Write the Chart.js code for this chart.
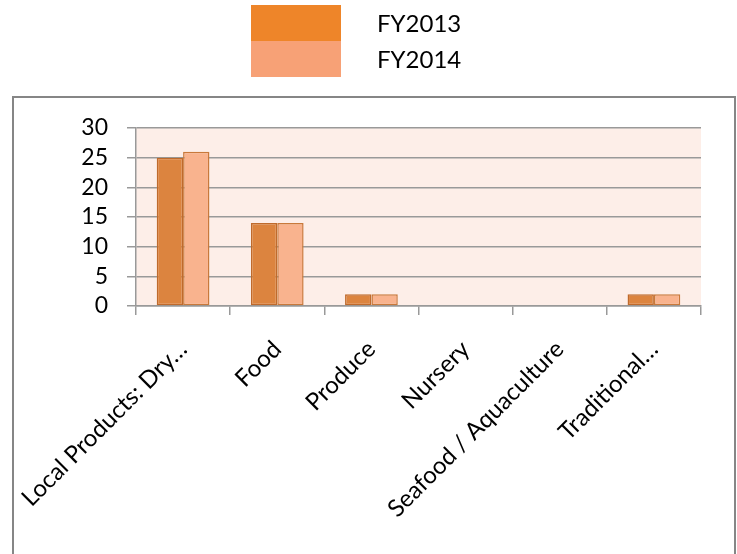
<!DOCTYPE html>
<html>
<head>
<meta charset="utf-8">
<script src="https://cdn.jsdelivr.net/npm/chart.js@4"></script>
<style>
  html, body { margin: 0; padding: 0; background: #fff; }
  #wrap { width: 737px; height: 554px; position: relative; }
</style>
</head>
<body>
<div id="wrap"><canvas id="salesChart"></canvas></div>
<script>
// vendors per category, two fiscal years
const categories = ["Local Products: Dry…", "Food", "Produce", "Nursery", "Seafood / Aquaculture", "Traditional…"];
const seriesNames = ["FY2013", "FY2014"];
const fy2013 = [25, 14, 2, 0, 0, 2];
const fy2014 = [26, 14, 2, 0, 0, 2];
const yTicks = [0, 5, 10, 15, 20, 25, 30];

const barColors = ["#dc843f", "#f9b38e"];
const barBorders = ["#bf6a2c", "#c9793b"];
const legendColors = ["#ee8529", "#f7a176"];
const FONT = "Lato, 'Noto Sans', sans-serif";

// plot background, outer frame and the stacked legend swatches
const frame = {
    id: "frame",
    beforeDraw(chart) {
        const { ctx, chartArea: a } = chart;
        ctx.save();
        ctx.fillStyle = "#fdeee8";
        ctx.fillRect(a.left, a.top, a.right - a.left, a.bottom - a.top);

        ctx.strokeStyle = "#868686";
        ctx.lineWidth = 2;
        ctx.strokeRect(13, 97, 722, 470);

        ctx.font = "24px " + FONT;
        ctx.textBaseline = "middle";
        ctx.textAlign = "left";
        seriesNames.forEach(function (name, i) {
            const y = 5 + i * 36;
            ctx.fillStyle = legendColors[i];
            ctx.fillRect(251, y, 90, 36);
            ctx.fillStyle = "#000";
            ctx.fillText(name, 377, y + 19);
        });
        ctx.restore();
    }
};

const ctx = document.getElementById("salesChart").getContext("2d");
new Chart(ctx, {
    type: "bar",
    data: {
        labels: categories,
        datasets: [fy2013, fy2014].map(function (values, i) {
            return {
                label: seriesNames[i],
                data: values,
                backgroundColor: barColors[i],
                borderColor: barBorders[i],
                borderWidth: 1.5,
                borderSkipped: false,
                categoryPercentage: 0.56,
                barPercentage: 1.0
            };
        })
    },
    options: {
        responsive: true,
        maintainAspectRatio: false,
        animation: false,
        layout: { padding: { top: 128, left: 13, right: 36, bottom: 0 } },
        plugins: {
            legend: { display: false },
            tooltip: { enabled: false }
        },
        scales: {
            x: {
                grid: {
                    drawOnChartArea: false,
                    color: "#999",
                    lineWidth: 1.5,
                    tickLength: 9
                },
                border: { color: "#999", width: 1.5 },
                ticks: {
                    autoSkip: false,
                    minRotation: 45,
                    maxRotation: 45,
                    labelOffset: 0,
                    padding: 20,
                    color: "#000",
                    font: { family: FONT, size: 24 }
                },
                afterFit(scale) {
                    scale.height = 248;
                    scale.paddingLeft = 0;
                    scale.paddingRight = 0;
                }
            },
            y: {
                min: yTicks[0],
                max: yTicks[yTicks.length - 1],
                afterBuildTicks(scale) {
                    scale.ticks = yTicks.map(v => ({ value: v }));
                },
                grid: {
                    color: "#999",
                    lineWidth: 1.5,
                    tickLength: 9
                },
                border: { color: "#999", width: 1.5 },
                ticks: {
                    autoSkip: false,
                    padding: 19,
                    color: "#000",
                    font: { family: FONT, size: 23 }
                },
                afterFit(scale) { scale.width = 123; }
            }
        }
    },
    plugins: [frame]
});
</script>
</body>
</html>
